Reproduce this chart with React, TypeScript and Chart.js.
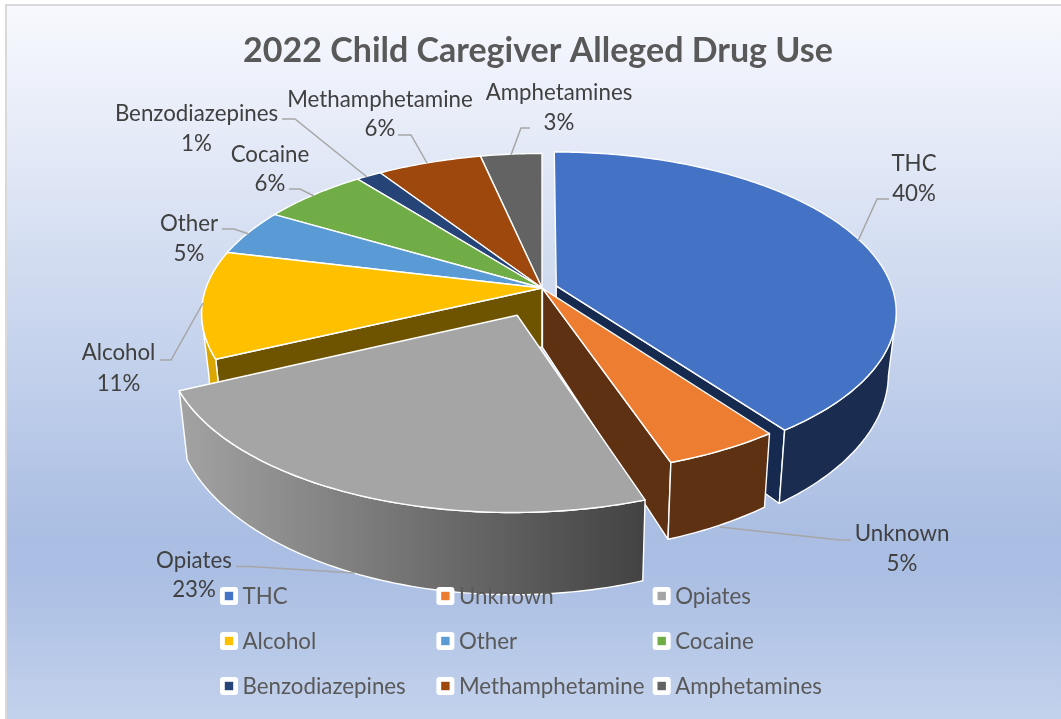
import React, { useEffect, useRef } from "react";
import { Chart, registerables } from "chart.js";

Chart.register(...registerables);

const categories = ["THC", "Unknown", "Opiates", "Alcohol", "Other", "Cocaine", "Benzodiazepines", "Methamphetamine", "Amphetamines"];
const shares = [40, 4.75, 23.25, 10.8, 4.7, 5.9, 1.4, 5.8, 3.4];
const sliceColors = ["#4472C4", "#ED7D31", "#A5A5A5", "#FFC000", "#5B9BD5", "#70AD47", "#264478", "#9E480E", "#636363"];
const outerWallColors = ["#1A2C50", "#5F3113", "#808080", "#DCA600", "#365C80", "#43682B", "#16294A", "#5F2C09", "#3C3C3C"];
const radialWallColors = ["#162A50", "#5F3113", "#606060", "#6E5400", "#365C80", "#43682B", "#16294A", "#5F2C09", "#3C3C3C"];
const explode = [15, 1, 62, 0, 0, 0, 0, 0, 0];
const paintOrder = [8, 7, 6, 5, 4, 3, 0, 1, 2];

// label anchor: centre x, first line y, second line y
const labelPlaces = [
  [914, 164, 194], [902, 534, 564], [194, 561, 590], [118.5, 353, 384], [189, 224, 254],
  [270, 154.5, 184], [196.5, 114, 144], [380, 100, 129], [559, 93, 123],
];
const leaders = [
  [[889, 199], [877, 199], [858, 241]],
  [[851, 540], [840, 540], [720, 527]],
  [[236, 566.5], [250, 566.5], [355, 573]],
  [[160, 360], [171, 360], [203, 303]],
  [[222, 229], [234, 229], [249, 234]],
  [[289, 189], [300, 189], [314, 196]],
  [[282, 119], [295, 119], [367, 177]],
  [[398, 135], [411, 135], [427, 163]],
  [[530, 128], [521, 128], [511, 155]],
];
const legendCols = [229, 445.4, 661.7];
const legendRows = [597, 642, 687];

const CX = 542, CY = 288, R = 336, K = 156, T = 0.16, DEPTH = 59, SHRINK = 0.978;
const FONT = "Lato";

const project = (u: number, v: number, bottom: boolean) => {
  const p = 1 / (1 - T * v);
  const s = bottom ? SHRINK : 1;
  return {
    x: CX + u * R * p * s,
    y: CY + v * K * p + (bottom ? DEPTH * Math.pow(p, 1.6) : 0),
  };
};

const trace = (ctx: CanvasRenderingContext2D, pts: { x: number; y: number }[]) => {
  ctx.beginPath();
  pts.forEach((q, i) => (i ? ctx.lineTo(q.x, q.y) : ctx.moveTo(q.x, q.y)));
  ctx.closePath();
};

const paint = (ctx: CanvasRenderingContext2D, fill: string | CanvasGradient) => {
  ctx.fillStyle = fill;
  ctx.fill();
  ctx.strokeStyle = "#FFFFFF";
  ctx.lineWidth = 1.4;
  ctx.lineJoin = "round";
  ctx.stroke();
};

const pie3d = {
  id: "pie3d",
  beforeDraw(chart: any) {
    const ctx = chart.ctx as CanvasRenderingContext2D;
    const g = ctx.createLinearGradient(0, 6, 0, 719);
    g.addColorStop(0, "#F8F9FE");
    g.addColorStop(0.74, "#AABEE3");
    g.addColorStop(0.8, "#ABBFE4");
    g.addColorStop(1, "#C3D2EC");
    ctx.fillStyle = "#FFFFFF";
    ctx.fillRect(0, 0, 1061, 719);
    ctx.fillStyle = g;
    ctx.fillRect(6, 5, 1055, 714);
    ctx.strokeStyle = "#D9D9D9";
    ctx.lineWidth = 2;
    ctx.beginPath();
    ctx.moveTo(6, 719);
    ctx.lineTo(6, 5);
    ctx.lineTo(1061, 5);
    ctx.stroke();
  },
  beforeDatasetsDraw(chart: any) {
    const ctx = chart.ctx as CanvasRenderingContext2D;
    const meta = chart.getDatasetMeta(0);

    paintOrder.forEach((i) => {
      const el = meta.data[i];
      const a0 = el.startAngle + Math.PI / 2;
      const a1 = el.endAngle + Math.PI / 2;
      const mid = (a0 + a1) / 2;
      const d = (el.options.offset || 0) / R;
      const ou = Math.sin(mid) * d;
      const ov = -Math.cos(mid) * d;
      const steps = Math.max(4, Math.ceil((a1 - a0) * 60));
      const rim: { u: number; v: number; a: number }[] = [];
      for (let s = 0; s <= steps; s++) {
        const a = a0 + ((a1 - a0) * s) / steps;
        rim.push({ u: ou + Math.sin(a), v: ov - Math.cos(a), a });
      }
      const camV = 1 / T;

      // radial walls that face the viewer
      const radial = (a: number, sign: number) => {
        const nu = sign * Math.cos(a);
        const nv = sign * Math.sin(a);
        if (nu * (0 - ou) + nv * (camV - ov) < 0.1) return;
        const eu = ou + Math.sin(a);
        const ev = ov - Math.cos(a);
        trace(ctx, [project(ou, ov, false), project(eu, ev, false), project(eu, ev, true), project(ou, ov, true)]);
        paint(ctx, radialWallColors[i]);
      };
      radial(a0, -1);
      radial(a1, 1);

      // outer wall
      const vis = rim.filter((q) => Math.sin(q.a) * (0 - q.u) - Math.cos(q.a) * (camV - q.v) > 0);
      if (vis.length > 1) {
        const upper = vis.map((q) => project(q.u, q.v, false));
        const lower = vis.map((q) => project(q.u, q.v, true)).reverse();
        trace(ctx, [...upper, ...lower]);
        let fill: string | CanvasGradient = outerWallColors[i];
        if (i === 2) {
          const g = ctx.createLinearGradient(177, 0, 645, 0);
          g.addColorStop(0, "#A3A3A3");
          g.addColorStop(1, "#424242");
          fill = g;
        }
        paint(ctx, fill);
      }

      // top face
      trace(ctx, [project(ou, ov, false), ...rim.map((q) => project(q.u, q.v, false))]);
      paint(ctx, sliceColors[i]);
    });
    return false;
  },
  afterDraw(chart: any) {
    const ctx = chart.ctx as CanvasRenderingContext2D;
    // legend
    ctx.font = `22.3px ${FONT}`;
    ctx.textAlign = "left";
    ctx.textBaseline = "middle";
    categories.forEach((name, i) => {
      const x = legendCols[i % 3];
      const row = legendRows[Math.floor(i / 3)];
      const y = row - 1;
      ctx.fillStyle = "#FFFFFF";
      ctx.beginPath();
      ctx.roundRect(x - 9, y - 9, 18, 18, 3);
      ctx.fill();
      ctx.fillStyle = sliceColors[i];
      ctx.fillRect(x - 4.2, y - 4.2, 8.4, 8.4);
      ctx.fillStyle = "#595959";
      ctx.fillText(name, x + 13.5, row);
    });
    // leader lines
    ctx.strokeStyle = "#A6A6A6";
    ctx.lineWidth = 1.5;
    ctx.lineJoin = "miter";
    leaders.forEach((line) => {
      ctx.beginPath();
      line.forEach(([x, y], j) => (j ? ctx.lineTo(x, y) : ctx.moveTo(x, y)));
      ctx.stroke();
    });
    // data labels
    const total = shares.reduce((a, b) => a + b, 0);
    ctx.fillStyle = "#404040";
    ctx.textAlign = "center";
    categories.forEach((name, i) => {
      const [x, y1, y2] = labelPlaces[i];
      ctx.fillText(name, x, y1);
      ctx.fillText(`${Math.round((shares[i] / total) * 100)}%`, x, y2);
    });
  },
};

export default function App() {
  const ref = useRef<HTMLCanvasElement>(null);
  useEffect(() => {
    const chart = new Chart(ref.current as HTMLCanvasElement, {
      type: "pie",
      data: {
        labels: categories,
        datasets: [{ data: shares, backgroundColor: sliceColors, offset: explode, borderColor: "#FFFFFF" }],
      },
      options: {
        responsive: false,
        animation: false,
        layout: { padding: { left: 15, top: 31 } },
        plugins: {
          legend: { display: false },
          tooltip: { enabled: false },
          title: {
            display: true,
            text: "2022 Child Caregiver Alleged Drug Use",
            color: "#595959",
            font: { family: FONT, size: 34, weight: "bold" },
            padding: { top: 0, bottom: 0 },
          },
        },
      },
      plugins: [pie3d],
    } as any);
    return () => chart.destroy();
  }, []);
  return (
    <div style={{ position: "fixed", left: 0, top: 0, width: 1061, height: 719 }}>
      <canvas ref={ref} width={1061} height={719} style={{ display: "block" }} />
    </div>
  );
}
